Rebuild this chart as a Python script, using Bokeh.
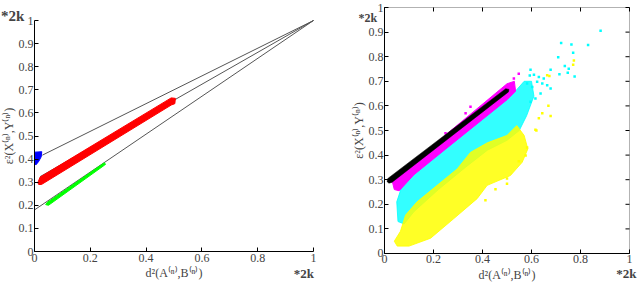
import math
from bokeh.plotting import figure
from bokeh.layouts import row
from bokeh.models import Label, FixedTicker, Range1d, BoxAnnotation
from bokeh.embed import file_html
from bokeh.resources import INLINE

FONT = "Liberation Serif"

X_TICKS = [0, 0.2, 0.4, 0.6, 0.8, 1]
X_TICK_LABELS = ["0", "0.2", "0.4", "0.6", "0.8", "1"]
Y_TICKS = [0, 0.1, 0.2, 0.3, 0.4, 0.5, 0.6, 0.7, 0.8, 0.9, 1]
Y_TICK_LABELS = ["0", "0.1", "0.2", "0.3", "0.4", "0.5", "0.6", "0.7", "0.8", "0.9", "1"]

X_LABEL = "d\u00b2(A\u207d\u207f\u207e,B\u207d\u207f\u207e)"
Y_LABEL = "\u03b5\u00b2(X\u207d\u207f\u207e,Y\u207d\u207f\u207e)"
MARK = "*2k"

# ---- left panel: guide lines towards (1,1) ----
guide_x0 = [0.028, 0.02, 0.0]
guide_y0 = [0.417, 0.324, 0.18]
guide_x1 = [1.0, 1.0, 1.0]
guide_y1 = [1.0, 1.0, 1.0]

# left panel clusters (outlines)
blue_x = [0.0, 0.0, 0.026, 0.024, 0.015, 0.005]
blue_y = [0.38, 0.43, 0.432, 0.41, 0.39, 0.375]
red_x = [0.012, 0.02, 0.49, 0.505, 0.503, 0.49, 0.025, 0.015]
red_y = [0.298, 0.322, 0.665, 0.663, 0.640, 0.634, 0.29, 0.29]
green_x = [0.04, 0.045, 0.25, 0.255, 0.25, 0.05]
green_y = [0.203, 0.212, 0.384, 0.378, 0.373, 0.2]

# ---- right panel clusters ----
cyan_x = [0.055, 0.05, 0.07, 0.10, 0.20, 0.30, 0.40, 0.48, 0.53, 0.57, 0.60, 0.61,
          0.58, 0.55, 0.50, 0.42, 0.33, 0.22, 0.12, 0.08]
cyan_y = [0.13, 0.21, 0.27, 0.31, 0.39, 0.47, 0.545, 0.61, 0.655, 0.70, 0.70, 0.64,
          0.56, 0.50, 0.46, 0.42, 0.35, 0.26, 0.17, 0.12]
yellow_x = [0.04, 0.065, 0.086, 0.133, 0.215, 0.297, 0.351, 0.42, 0.50, 0.54, 0.57,
            0.585, 0.562, 0.514, 0.419, 0.378, 0.283, 0.188, 0.10, 0.052]
yellow_y = [0.05, 0.09, 0.156, 0.21, 0.277, 0.344, 0.411, 0.45, 0.48, 0.52, 0.48,
            0.425, 0.371, 0.317, 0.277, 0.223, 0.142, 0.062, 0.03, 0.03]
magenta_x = [0.04, 0.03, 0.50, 0.53, 0.535, 0.50, 0.40, 0.25, 0.12, 0.06]
magenta_y = [0.26, 0.30, 0.69, 0.70, 0.66, 0.625, 0.545, 0.425, 0.32, 0.255]
black_x = [0.010, 0.015, 0.495, 0.508, 0.506, 0.030, 0.018]
black_y = [0.293, 0.306, 0.670, 0.667, 0.657, 0.289, 0.286]

# sparse outlying points
cyan_pts_x = [0.882, 0.721, 0.763, 0.831, 0.770, 0.709, 0.736, 0.752, 0.748, 0.714, 0.776,
              0.678, 0.596, 0.593, 0.610, 0.630, 0.650, 0.644, 0.664, 0.678, 0.623, 0.582,
              0.603, 0.637, 0.616, 0.596]
cyan_pts_y = [0.906, 0.856, 0.850, 0.848, 0.816, 0.798, 0.762, 0.751, 0.735, 0.729, 0.720,
              0.747, 0.747, 0.724, 0.727, 0.718, 0.711, 0.691, 0.684, 0.671, 0.698, 0.691,
              0.677, 0.650, 0.630, 0.617]
yellow_pts_x = [0.773, 0.770, 0.673, 0.669, 0.616, 0.620, 0.582, 0.576, 0.548, 0.500, 0.500,
                0.412, 0.453, 0.644, 0.678, 0.630, 0.664]
yellow_pts_y = [0.785, 0.767, 0.722, 0.601, 0.503, 0.500, 0.431, 0.398, 0.375, 0.305, 0.284,
                0.216, 0.261, 0.570, 0.559, 0.550, 0.725]
magenta_pts_x = [0.548, 0.528, 0.351, 0.331, 0.249]
magenta_pts_y = [0.731, 0.711, 0.597, 0.570, 0.489]


def style_axis(ax, ticks, labels, title):
    ax.fixed_location = 0
    ax.bounds = (0, 1)
    ax.ticker = FixedTicker(ticks=ticks)
    ax.major_label_overrides = {t: s for t, s in zip(ticks, labels)}
    ax.axis_label = title
    ax.axis_line_color = "black"
    ax.major_tick_in = 4
    ax.major_tick_out = 0
    ax.minor_tick_line_color = None
    ax.major_label_text_font = FONT
    ax.major_label_text_font_size = "12px"
    ax.major_label_standoff = 2
    ax.axis_label_text_font = FONT
    ax.axis_label_text_font_style = "normal"
    ax.axis_label_text_font_size = "12px"
    ax.axis_label_standoff = 1


def make_fig(width, xr, yr):
    p = figure(width=width, height=282, x_range=Range1d(*xr), y_range=Range1d(*yr),
               output_backend="svg", toolbar_location=None,
               min_border_left=0, min_border_right=0, min_border_top=0, min_border_bottom=0)
    style_axis(p.xaxis[0], X_TICKS, X_TICK_LABELS, X_LABEL)
    style_axis(p.yaxis[0], Y_TICKS, Y_TICK_LABELS, Y_LABEL)
    p.yaxis[0].axis_label_standoff = 0
    p.yaxis[0].major_label_standoff = 1
    p.grid.visible = False
    p.outline_line_color = None
    p.background_fill_color = "white"
    p.border_fill_color = "white"
    return p


def mark(p, x, y, size, align="left"):
    p.add_layout(Label(x=x, y=y, text=MARK, text_font=FONT, text_font_style="bold",
                       text_font_size=size, text_align=align, text_baseline="alphabetic"))


# ---------------- left figure ----------------
p1 = make_fig(340, (-0.1219, 1.0968), (-0.1342, 1.0866))
p1.segment(x0=guide_x0, y0=guide_y0, x1=guide_x1, y1=guide_y1,
           line_color="#555555", line_width=1)
p1.patch(blue_x, blue_y, fill_color="#0000ff", line_color="#0000ff", line_width=1)
p1.patch(red_x, red_y, fill_color="#ff0000", line_color="#ff0000", line_width=1)
p1.patch(green_x, green_y, fill_color="#00ff00", line_color="#00ff00", line_width=1)
mark(p1, -0.12, 1.02, "15px")
mark(p1, 0.929, -0.097, "13px")

# ---------------- right figure ----------------
p2 = make_fig(300, (-0.1796, 1.0449), (-0.1179, 1.0285))
p2.add_layout(BoxAnnotation(left=0, right=1, bottom=0, top=1, fill_color=None,
                            line_color="black", line_width=1))
p2.ray(x=X_TICKS, y=1, length=4, length_units="screen", angle=-math.pi / 2,
       line_color="black", line_width=1)
p2.ray(x=1, y=Y_TICKS, length=4, length_units="screen", angle=math.pi,
       line_color="black", line_width=1)
p2.patch(cyan_x, cyan_y, fill_color="#00ffff", fill_alpha=0.8,
         line_color="#00ffff", line_alpha=0.8, line_width=1)
p2.scatter(cyan_pts_x, cyan_pts_y, marker="square", size=2.5,
           fill_color="#00ffff", line_color=None)
p2.patch(yellow_x, yellow_y, fill_color="#ffff00", fill_alpha=0.85,
         line_color="#ffff00", line_alpha=0.85, line_width=1)
p2.scatter(yellow_pts_x, yellow_pts_y, marker="square", size=2.5,
           fill_color="#ffff00", line_color=None)
p2.patch(magenta_x, magenta_y, fill_color="#ff00ff", line_color="#ff00ff", line_width=1)
p2.scatter(magenta_pts_x, magenta_pts_y, marker="square", size=2.5,
           fill_color="#ff00ff", line_color=None)
p2.patch(black_x, black_y, fill_color="black", line_color="black", line_width=0.5)
mark(p2, -0.106, 0.957, "12px")
mark(p2, 1.0286, -0.0813, "13px", align="right")

layout = row(p1, p2)
open("out.html", "w").write(file_html(layout, INLINE))
